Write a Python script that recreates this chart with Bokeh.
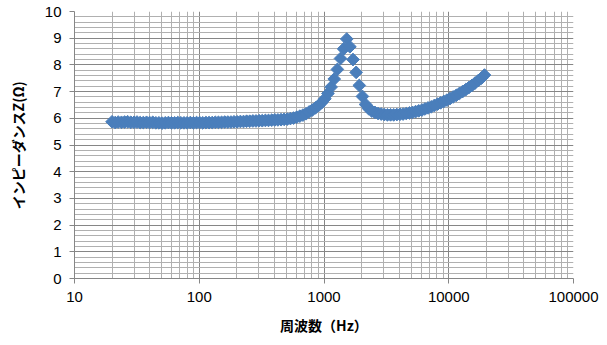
import math
from bokeh.plotting import figure
from bokeh.models import FixedTicker, NumeralTickFormatter, Range1d
from bokeh.embed import file_html
from bokeh.resources import INLINE

freq = [20, 21.2, 22.4, 23.8, 25.2, 26.7, 28.3, 30.0, 31.7, 33.6, 35.6, 37.8,
        40, 42.4, 44.9, 47.6, 50.4, 53.4, 56.6, 59.9, 63.5, 67.3, 71.3, 75.5,
        80, 84.8, 89.8, 95.1, 100.8, 106.8, 113.1, 119.9, 127, 134.5, 142.5, 151,
        160, 169.5, 179.6, 190.3, 201.6, 213.6, 226.3, 239.7, 254, 269.1, 285.1, 302.1,
        320, 339, 359, 381, 403, 427, 453, 479, 508, 538, 570, 604,
        640, 678, 718, 761, 806, 854, 905, 959, 1016, 1076, 1140, 1208,
        1280, 1356, 1437, 1522, 1613, 1709, 1810, 1918, 2032, 2153, 2281, 2416,
        2560, 2712, 2874, 3044, 3225, 3417, 3620, 3836, 4064, 4305, 4561, 4833,
        5120, 5424, 5747, 6089, 6451, 6834, 7241, 7671, 8127, 8611, 9123, 9665,
        10240, 10849, 11494, 12177, 12902, 13669, 14482, 15343, 16255, 17222, 18246, 19331]

# Impedance Z (ohm)
impedance = [5.87, 5.84, 5.86, 5.85, 5.86, 5.87, 5.85, 5.85, 5.86, 5.84, 5.84, 5.85,
             5.84, 5.85, 5.83, 5.83, 5.82, 5.83, 5.84, 5.83, 5.83, 5.84, 5.83, 5.83,
             5.83, 5.84, 5.83, 5.84, 5.84, 5.83, 5.84, 5.84, 5.84, 5.85, 5.85, 5.85,
             5.86, 5.86, 5.86, 5.87, 5.87, 5.88, 5.88, 5.89, 5.89, 5.90, 5.90, 5.91,
             5.91, 5.92, 5.92, 5.93, 5.94, 5.94, 5.95, 5.96, 5.97, 5.99, 6.01, 6.04,
             6.08, 6.12, 6.17, 6.24, 6.31, 6.39, 6.48, 6.59, 6.73, 6.93, 7.17, 7.47,
             7.83, 8.24, 8.60, 8.97, 8.68, 8.20, 7.72, 7.23, 6.82, 6.52, 6.36, 6.27,
             6.22, 6.18, 6.16, 6.14, 6.13, 6.13, 6.13, 6.14, 6.15, 6.16, 6.18, 6.20,
             6.22, 6.25, 6.28, 6.31, 6.35, 6.39, 6.43, 6.48, 6.53, 6.58, 6.63, 6.68,
             6.74, 6.80, 6.86, 6.93, 7.00, 7.07, 7.15, 7.23, 7.32, 7.41, 7.50, 7.62]

x_major = [10, 100, 1000, 10000, 100000]
x_labels = ["10", "100", "1000", "10000", "100000"]
y_major = [0, 1, 2, 3, 4, 5, 6, 7, 8, 9, 10]

x_minor = [m * d for d in x_major[:-1] for m in range(2, 10)]
y_minor = [round(i * 0.2, 1) for i in range(0, 51) if i % 5 != 0]

p = figure(width=607, height=345, x_axis_type="log",
           x_range=Range1d(10, 100000), y_range=Range1d(0, 10),
           output_backend="svg", toolbar_location=None,
           min_border_left=74, min_border_right=34, min_border_top=11, min_border_bottom=67)
p.outline_line_color = None
p.background_fill_color = "white"
p.border_fill_color = "white"

p.xaxis.ticker = FixedTicker(ticks=x_major, minor_ticks=x_minor)
p.yaxis.ticker = FixedTicker(ticks=y_major, minor_ticks=y_minor)
p.xaxis.major_label_overrides = {v: s for v, s in zip(x_major, x_labels)}
p.xaxis.formatter = NumeralTickFormatter(format="0")

for ax in (p.xaxis, p.yaxis):
    ax.axis_line_color = "#868686"
    ax.major_tick_line_color = "#868686"
    ax.major_tick_in = 0
    ax.major_tick_out = 5
    ax.minor_tick_line_color = None
    ax.major_label_text_font = "Liberation Sans"
    ax.major_label_text_font_size = "15px"
    ax.major_label_text_color = "#000000"
    ax.axis_label_text_font = "Noto Sans CJK JP"
    ax.axis_label_text_font_style = "bold"
    ax.axis_label_text_font_size = "14px"
    ax.axis_label_text_color = "#000000"

p.xaxis.major_label_standoff = 8
p.yaxis.major_label_standoff = 8
p.xaxis.axis_label = "周波数（Hz）"
p.yaxis.axis_label = "インピーダンスZ(Ω)"
p.xaxis.axis_label_standoff = 10
p.yaxis.axis_label_standoff = 14

for g in (p.xgrid, p.ygrid):
    g.grid_line_color = "#868686"
    g.grid_line_width = 1
    g.minor_grid_line_color = "#b0b0b0"
    g.minor_grid_line_width = 1

p.scatter(freq, impedance, marker="square", size=9, angle=math.pi / 4,
          fill_color="#4a7ebb", line_color="#4a7ebb", line_width=1)

open("out.html", "w").write(file_html(p, INLINE))
